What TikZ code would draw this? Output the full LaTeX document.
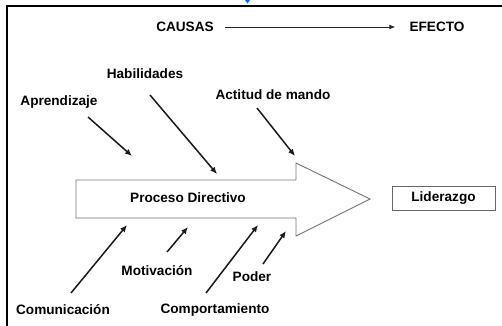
\documentclass[tikz,border=0pt]{standalone}
\usepackage{fontspec}
\setmainfont{Liberation Sans}
\newfontfamily\lbold{Liberation Sans Bold}
\usetikzlibrary{arrows.meta}
\begin{document}
\begin{tikzpicture}[x=1pt,y=-1pt,
  lbl/.style={font=\lbold\fontsize{13.6}{16}\selectfont, inner sep=0pt, text=black},
  cause/.style={draw=black!90, line width=1.5pt, -{Latex[length=7pt,width=6pt]}},
  bigarrow/.style={draw=black!55, line width=0.9pt, fill=white},
  framebox/.style={draw=black, line width=2pt}]
\useasboundingbox (0,0) rectangle (502,325);
% frame
\draw[framebox] (7,330) -- (7,6) -- (510,6);
\fill[blue!60!cyan] (245,0) -- (250,0) -- (247.5,3.5) -- cycle;
% top
\node[lbl] (causas) at (185,27) {CAUSAS};
\node[lbl] (efecto) at (437,27) {EFECTO};
\path (causas.east) ++(11,0) coordinate (t1) (efecto.west) ++(-14,0) coordinate (t2);
\draw[draw=black!85, line width=0.9pt, -{Latex[length=6pt,width=5pt]}] (t1) -- (t2);
% big arrow
\draw[bigarrow] (76,180) -- (296,180) -- (296,163) -- (370,199) -- (296,236) -- (296,218) -- (76,218) -- cycle;
\node[lbl] (proc) at (188,198) {Proceso Directivo};
\node[lbl, draw=black!60, line width=0.9pt, minimum width=103pt, minimum height=24pt] (lid) at (443.5,198) {Liderazgo};
% labels
\node[lbl] (apr) at (59,102) {Aprendizaje};
\node[lbl] (hab) at (145,74) {Habilidades};
\node[lbl] (act) at (273,95) {Actitud de mando};
\node[lbl] (mot) at (157,271) {Motivación};
\node[lbl] (pod) at (252,277) {Poder};
\node[lbl] (com) at (63,310) {Comunicación};
\node[lbl] (cmp) at (215,310) {Comportamiento};
% cause arrows
\coordinate (a1) at (88,117); \coordinate (a2) at (132,156);
\coordinate (h1) at (150,95); \coordinate (h2) at (217,174);
\coordinate (c1) at (257,108); \coordinate (c2) at (295,156);
\coordinate (m1) at (71,293); \coordinate (m2) at (127,225);
\coordinate (v1) at (167,252); \coordinate (v2) at (188,227);
\coordinate (p1) at (206,293); \coordinate (p2) at (258,225);
\coordinate (q1) at (263,264); \coordinate (q2) at (286,231);
\draw[cause] (a1) -- (a2);
\draw[cause] (h1) -- (h2);
\draw[cause] (c1) -- (c2);
\draw[cause] (m1) -- (m2);
\draw[cause] (v1) -- (v2);
\draw[cause] (p1) -- (p2);
\draw[cause] (q1) -- (q2);
\end{tikzpicture}
\end{document}
